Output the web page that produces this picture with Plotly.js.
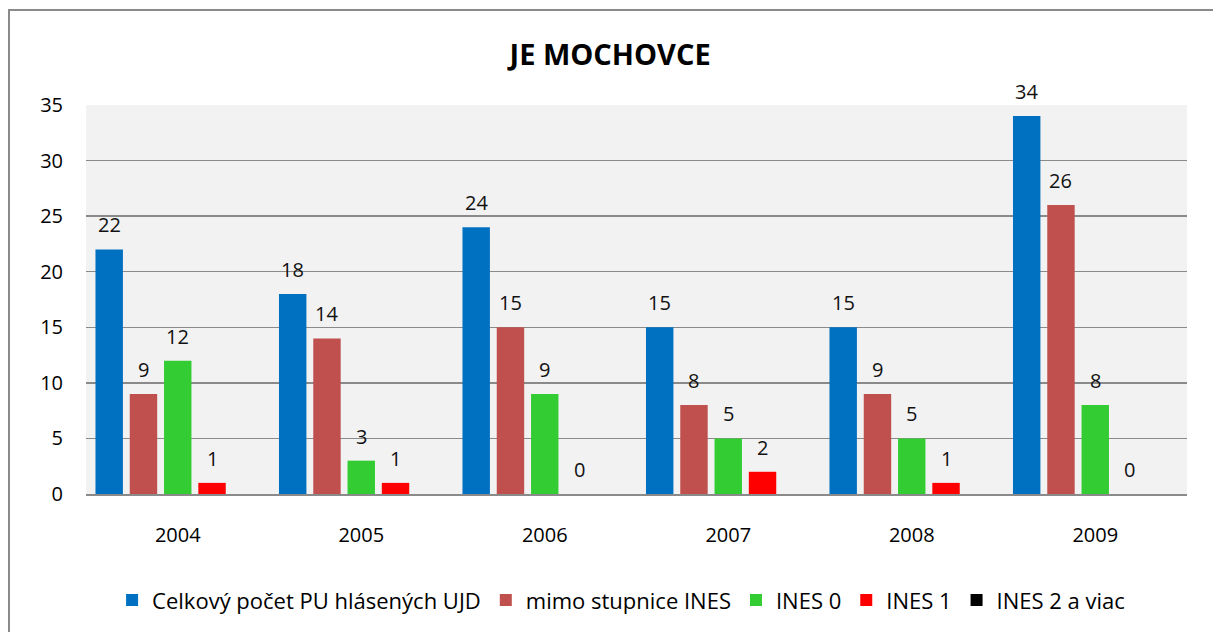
<!DOCTYPE html>
<html><head><meta charset="utf-8">
<script src="https://cdn.plot.ly/plotly-3.0.1.min.js"></script>
<style>
html,body{margin:0;padding:0;overflow:hidden;background:#fff;}
#chart{width:1213px;height:632px;}
#frame{position:absolute;left:8px;top:9px;width:1400px;height:800px;border:2px solid #8a8a8a;pointer-events:none;}
</style></head>
<body>
<div id="chart"></div>
<div id="frame"></div>
<script>
const years = ['2004','2005','2006','2007','2008','2009'];
const seriesNames = ['Celkový počet PU hlásených UJD','mimo stupnice INES','INES 0','INES 1','INES 2 a viac'];
const celkovy = [22,18,24,15,15,34];
const mimo = [9,14,15,8,9,26];
const ines0 = [12,3,9,5,5,8];
const ines1 = [1,1,0,2,1,0];
const ines2 = [0,0,0,0,0,0];
const colors = ['#0070C0','#C0504D','#33CC33','#FF0000','#000000'];
const showLabels = [true,true,true,true,false];
const allVals = [celkovy,mimo,ines0,ines1,ines2];

const FONT = '"Open Sans", Lato, sans-serif';
const W = 1213, H = 632;
const M = {l:86,r:26,t:105,b:137};
const BARGAP = 0.066, GROUPGAP = 0.2;

const traces = allVals.map((vals,i)=>({
  type:'bar', x:years, y:vals, name:seriesNames[i],
  marker:{color:colors[i]},
  hoverinfo:'none'
}));

// data labels placed via the axes (category index, value) with group offset from layout geometry
const plotW = W - M.l - M.r;
const slot = plotW / years.length * (1 - BARGAP) / allVals.length;
const annotations = [];
allVals.forEach((vals,i)=>{
  if(!showLabels[i]) return;
  vals.forEach((v,j)=>{
    annotations.push({
      x: j, y: v, xref:'x', yref:'y',
      text: String(v), showarrow:false,
      xanchor:'center', yanchor:'bottom',
      xshift: (i - (allVals.length-1)/2) * slot, yshift: 9,
      font:{family:FONT,size:20,color:'#111'}
    });
  });
});

const layout = {
  width:W, height:H,
  margin:M,
  paper_bgcolor:'#ffffff', plot_bgcolor:'#F2F2F2',
  title:{text:'<b>JE MOCHOVCE</b>', font:{family:FONT,size:29,color:'#000'}, x:0.503, xanchor:'center', y:0.913, yanchor:'middle'},
  barmode:'group', bargap:BARGAP, bargroupgap:GROUPGAP,
  showlegend:true,
  legend:{orientation:'h', x:0.486, xanchor:'center', y:-0.27, yanchor:'middle', font:{family:FONT,size:22,color:'#000'}, itemwidth:30, traceorder:'normal'},
  annotations: annotations,
  xaxis:{type:'category', range:[-0.5, years.length-0.5], showgrid:false, showline:true, linecolor:'#8a8a8a', linewidth:2, ticks:'', ticklabelstandoff:22, tickfont:{family:FONT,size:20,color:'#000'}, fixedrange:true},
  yaxis:{range:[0,35], dtick:5, tick0:0, showgrid:true, gridcolor:'#8a8a8a', gridwidth:1.5, zeroline:false, showline:false, ticks:'', ticklabelstandoff:22, tickfont:{family:FONT,size:20,color:'#000'}, fixedrange:true}
};
Plotly.newPlot('chart', traces, layout, {displayModeBar:false, staticPlot:true});
</script>
</body></html>
